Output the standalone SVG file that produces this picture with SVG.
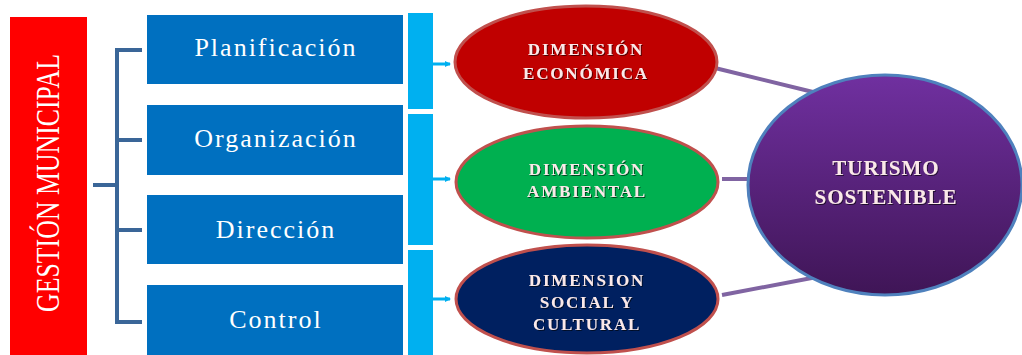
<svg xmlns="http://www.w3.org/2000/svg" width="1022" height="355" viewBox="0 0 1022 355">
<defs>
<linearGradient id="pg" x1="0" y1="0" x2="0" y2="1">
<stop offset="0" stop-color="#7030a0"/>
<stop offset="1" stop-color="#3f1556"/>
</linearGradient>
<marker id="ah" markerWidth="6" markerHeight="6" refX="5" refY="3" orient="auto" markerUnits="userSpaceOnUse">
<path d="M0,0 L6,3 L0,6 z" fill="#00b0f0"/>
</marker>
<filter id="sh" x="-10%" y="-10%" width="120%" height="140%">
<feDropShadow dx="1" dy="1" stdDeviation="0.6" flood-color="#000" flood-opacity="0.6"/>
</filter>
</defs>
<style>
.box{fill:#0070c0}
.btxt{font-family:"Liberation Serif",serif;font-size:26px;fill:#fff;text-anchor:middle;letter-spacing:2px}
.lb{fill:#00b0f0}
.dtxt{font-family:"Liberation Serif",serif;font-weight:bold;font-size:17px;fill:#fbe9e9;text-anchor:middle;letter-spacing:1.8px}
.big{font-size:21px;letter-spacing:1px}
.conn{stroke:#8064a2;stroke-width:4;fill:none}
.br{stroke:#3a6698;stroke-width:4;fill:none}
.arr{stroke:#00b0f0;stroke-width:3;fill:none}
.ell{stroke:#c0504d;stroke-width:3}
</style>
<rect width="1022" height="355" fill="#fff"/>
<g id="gestion">
<rect x="10" y="17" width="77" height="338" fill="#ff0000"/>
<text transform="translate(59,183) rotate(-90)" font-family="Liberation Serif, serif" font-size="33" fill="#fff" text-anchor="middle" textLength="258" lengthAdjust="spacingAndGlyphs">GESTIÓN MUNICIPAL</text>
</g>
<g id="connectors">
<path class="br" d="M93,185 H117 M142,50 H117 V322 H142 M117,140 H142 M117,230 H142"/>
<path class="arr" d="M433,64 H450" marker-end="url(#ah)"/>
<path class="arr" d="M433,179 H450" marker-end="url(#ah)"/>
<path class="arr" d="M433,299 H450" marker-end="url(#ah)"/>
<path class="conn" d="M715,68 L813,92"/>
<path class="conn" d="M722,179 L748,179"/>
<path class="conn" d="M722,295 L817,277"/>
</g>
<g id="planificacion">
<rect class="box" x="147" y="15" width="256" height="69"/>
<text class="btxt" x="276" y="56">Planificación</text>
</g>
<g id="organizacion">
<rect class="box" x="147" y="105" width="256" height="70"/>
<text class="btxt" x="276" y="147">Organización</text>
</g>
<g id="direccion">
<rect class="box" x="147" y="195" width="256" height="69"/>
<text class="btxt" x="276" y="238">Dirección</text>
</g>
<g id="control">
<rect class="box" x="147" y="285" width="256" height="70"/>
<text class="btxt" x="276" y="328">Control</text>
</g>
<g id="bracket-right">
<rect class="lb" x="408" y="13" width="25" height="96"/>
<rect class="lb" x="408" y="114" width="25" height="131"/>
<rect class="lb" x="408" y="250" width="25" height="105"/>
</g>
<g id="economica">
<ellipse class="ell" cx="586" cy="62" rx="131" ry="56" fill="#c00000"/>
<text class="dtxt" filter="url(#sh)" x="586" y="55">DIMENSIÓN</text>
<text class="dtxt" filter="url(#sh)" x="586" y="79">ECONÓMICA</text>
</g>
<g id="ambiental">
<ellipse class="ell" cx="587" cy="182" rx="131" ry="56" fill="#00b050"/>
<text class="dtxt" filter="url(#sh)" x="587" y="175">DIMENSIÓN</text>
<text class="dtxt" filter="url(#sh)" x="587" y="197">AMBIENTAL</text>
</g>
<g id="social">
<ellipse class="ell" cx="587" cy="299" rx="131" ry="54" fill="#002060"/>
<text class="dtxt" filter="url(#sh)" x="587" y="286">DIMENSION</text>
<text class="dtxt" filter="url(#sh)" x="587" y="308">SOCIAL Y</text>
<text class="dtxt" filter="url(#sh)" x="587" y="330">CULTURAL</text>
</g>
<g id="turismo">
<ellipse cx="885" cy="185" rx="137" ry="110" fill="url(#pg)" stroke="#4f81bd" stroke-width="3"/>
<text class="dtxt big" filter="url(#sh)" x="886" y="175">TURISMO</text>
<text class="dtxt big" filter="url(#sh)" x="886" y="204">SOSTENIBLE</text>
</g>
</svg>
